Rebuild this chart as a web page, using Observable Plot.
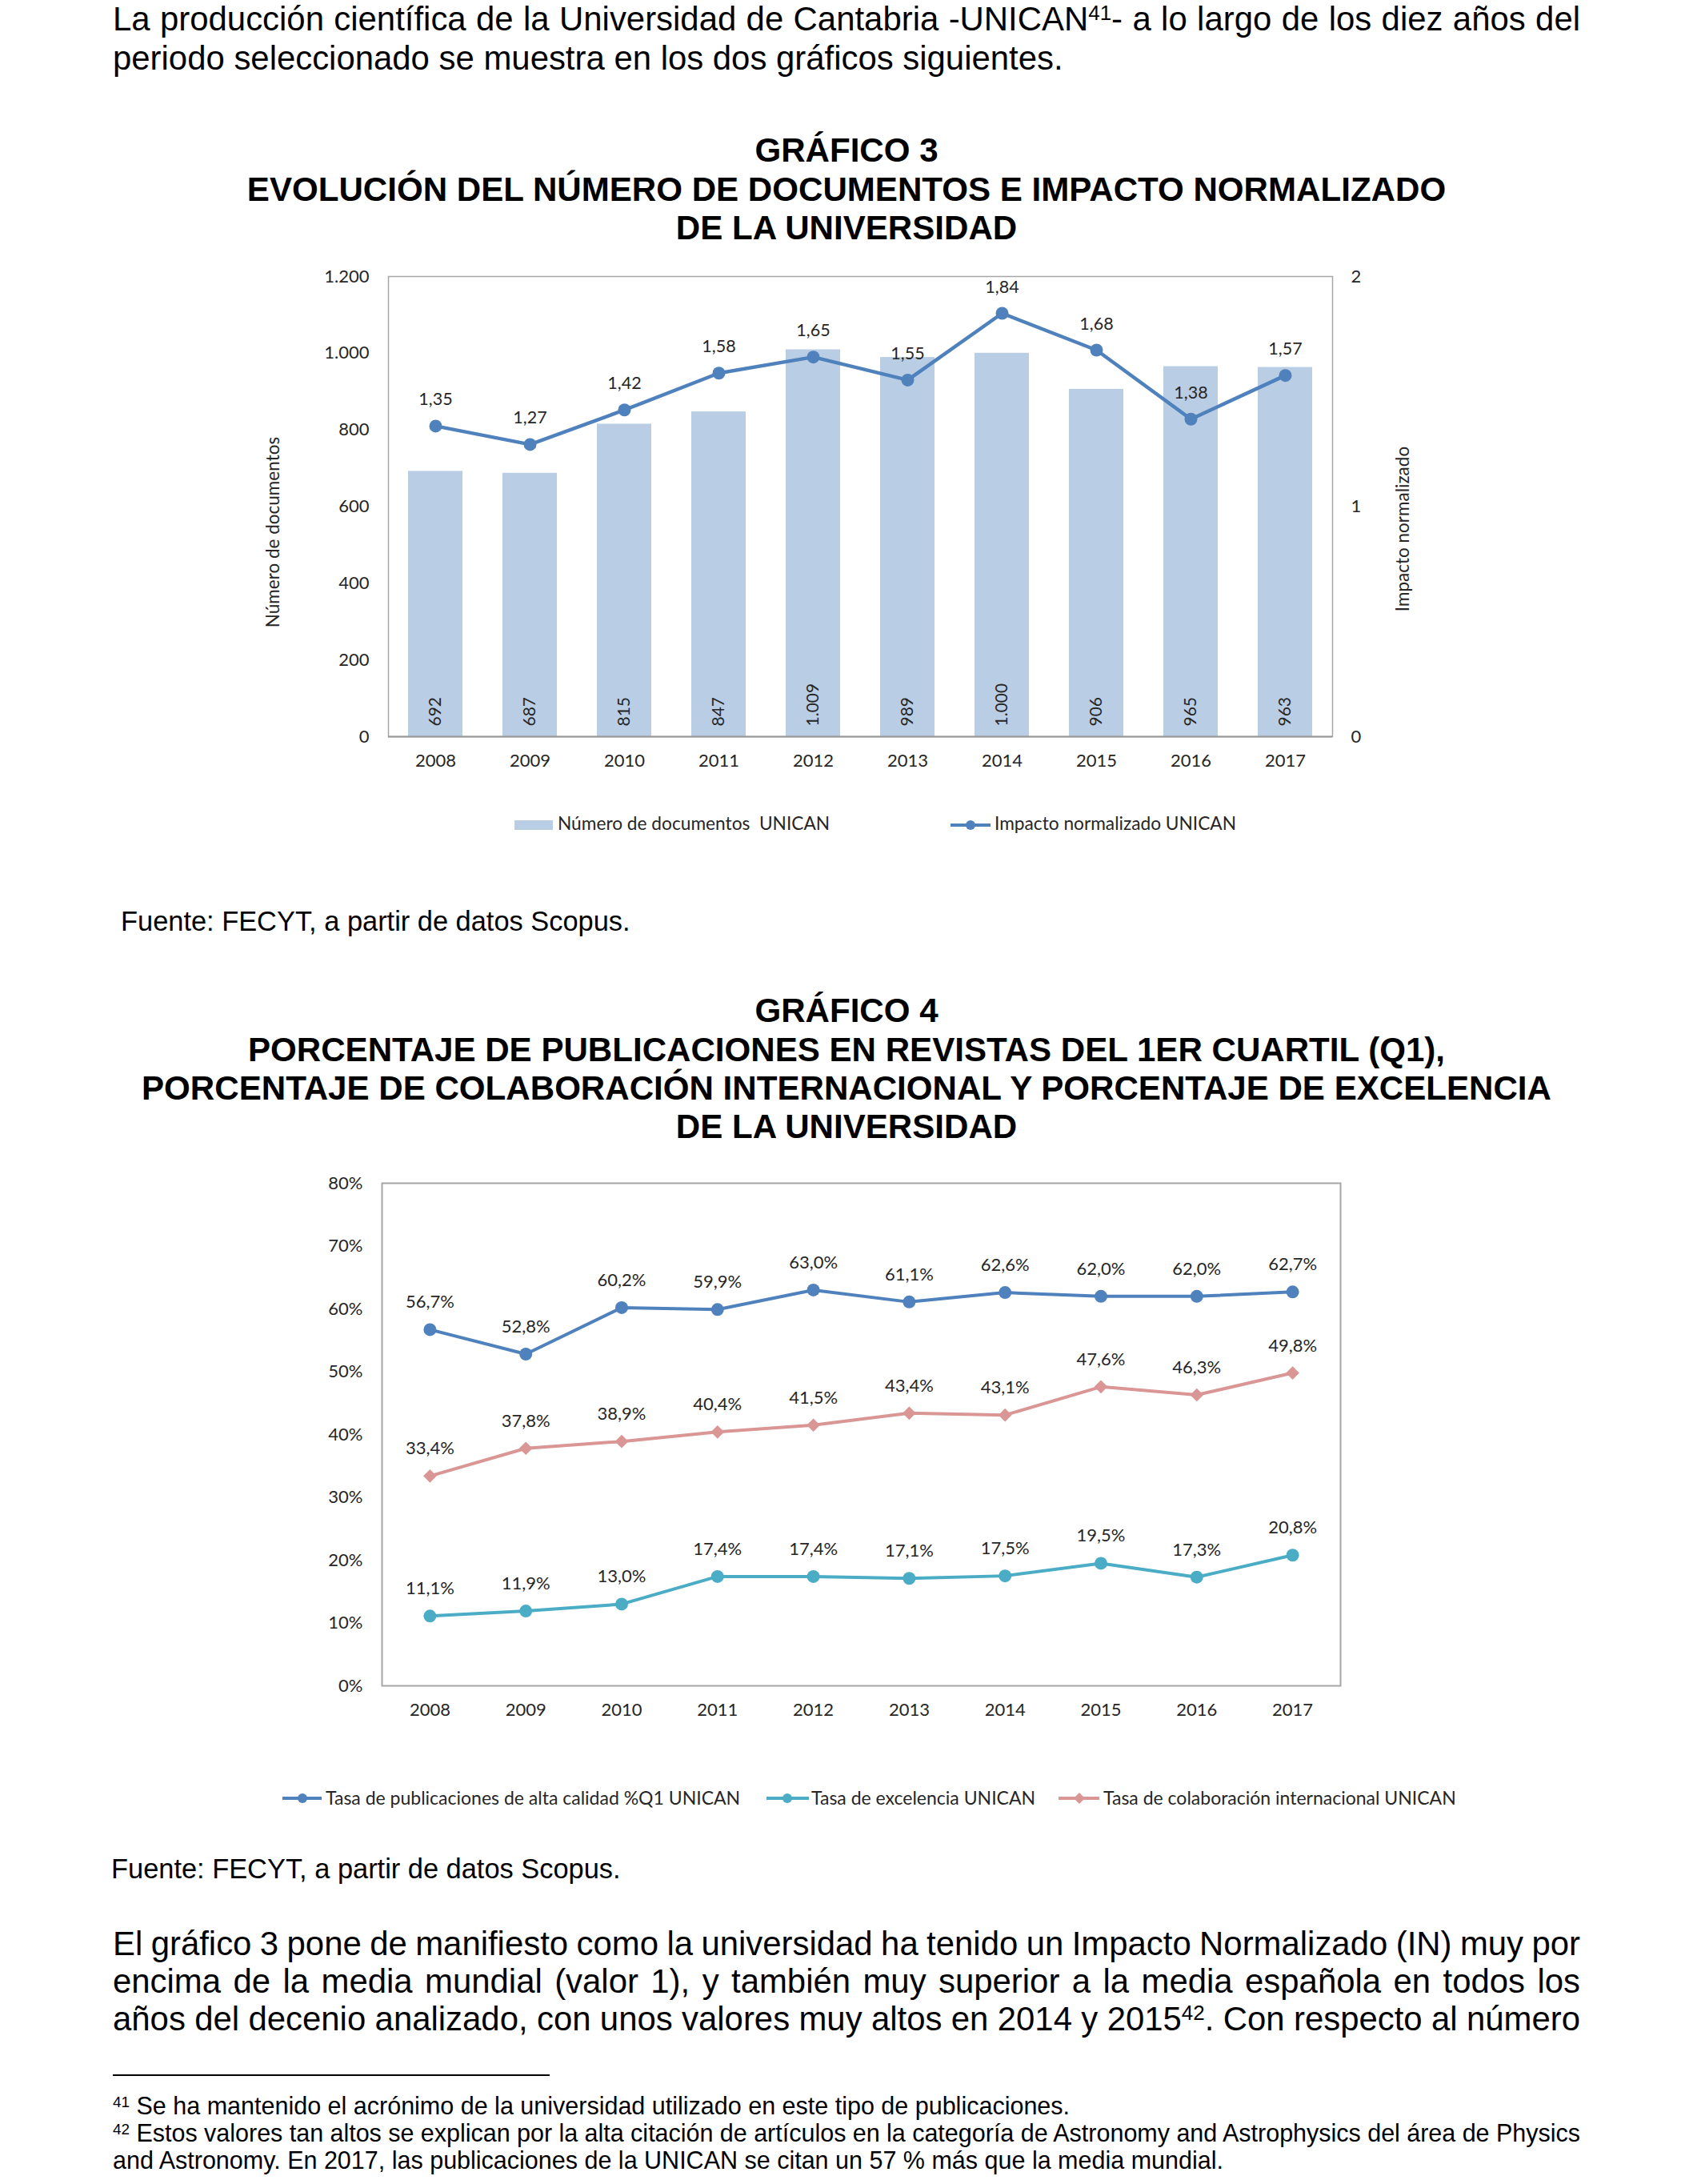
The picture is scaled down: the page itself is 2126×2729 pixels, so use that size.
<!DOCTYPE html>
<html><head><meta charset="utf-8">
<script src="https://cdn.jsdelivr.net/npm/d3@7"></script>
<script src="https://cdn.jsdelivr.net/npm/@observablehq/plot@0.6"></script>
<style>
html,body{margin:0;padding:0;background:#fff;}
body{width:2126px;height:2729px;position:relative;overflow:hidden;color:#000;font-family:"Liberation Sans",Arial,sans-serif;}
.ln{position:absolute;white-space:nowrap;}
.ln span{white-space:nowrap;}
sup{font-size:0.62em;vertical-align:baseline;position:relative;top:-0.5em;line-height:0;}
.abs{position:absolute;}
svg{overflow:visible;}
</style></head><body>
<script>
// ---------- DATA ----------
const years = ["2008","2009","2010","2011","2012","2013","2014","2015","2016","2017"];
const documentos = [692, 687, 815, 847, 1009, 989, 1000, 906, 965, 963];
const impacto = [1.35, 1.27, 1.42, 1.58, 1.65, 1.55, 1.84, 1.68, 1.38, 1.57];
const q1 = [56.7, 52.8, 60.2, 59.9, 63.0, 61.1, 62.6, 62.0, 62.0, 62.7];
const excelencia = [11.1, 11.9, 13.0, 17.4, 17.4, 17.1, 17.5, 19.5, 17.3, 20.8];
const colaboracion = [33.4, 37.8, 38.9, 40.4, 41.5, 43.4, 43.1, 47.6, 46.3, 49.8];
const docTicks = [0, 200, 400, 600, 800, 1000, 1200];
const impTicks = [0, 1, 2];
const pctTicks = [0, 10, 20, 30, 40, 50, 60, 70, 80];
const seriesNames = ["Tasa de publicaciones de alta calidad %Q1 UNICAN", "Tasa de excelencia UNICAN", "Tasa de colaboración internacional UNICAN"];
const seriesColors = ["#4F81BD", "#4BACC6", "#D99694"];

// ---------- helpers ----------
const page = document.body;
const SANS = "'Liberation Sans', Arial, sans-serif";
const CHART_FONT = "Lato, 'Open Sans', sans-serif";
const justified = [];
function addLine(html, {x = 141, width = 1834, baseline, size = 41.9, weight = 400, align = "left"}) {
  const d = document.createElement("div");
  d.className = "ln";
  d.style.left = x + "px";
  d.style.width = width + "px";
  d.style.top = (baseline - 0.8465 * size) + "px";
  d.style.fontSize = size + "px";
  d.style.lineHeight = size + "px";
  d.style.fontWeight = weight;
  d.style.fontFamily = SANS;
  d.style.textAlign = align === "justify" ? "left" : align;
  d.innerHTML = "<span>" + html + "</span>";
  page.appendChild(d);
  if (align === "justify") justified.push([d, width]);
}
function doJustify() {
  for (const [d, w] of justified) {
    const s = d.firstChild;
    s.style.wordSpacing = "0px";
    const nat = s.getBoundingClientRect().width;
    const n = (s.textContent.match(/ /g) || []).length;
    if (n) s.style.wordSpacing = ((w - nat) / n) + "px";
  }
}
function place(el, left, top) {
  const w = document.createElement("div");
  w.className = "abs";
  w.style.left = left + "px";
  w.style.top = top + "px";
  w.appendChild(el);
  page.appendChild(w);
}

// ---------- texts ----------
const TITLE = 42.1;
addLine("La producción científica de la Universidad de Cantabria -UNICAN<sup>41</sup>- a lo largo de los diez años del", {baseline: 38.5, align: "justify"});
addLine("periodo seleccionado se muestra en los dos gráficos siguientes.", {baseline: 87});

addLine("GRÁFICO 3", {baseline: 203, weight: 700, align: "center", size: TITLE});
addLine("EVOLUCIÓN DEL NÚMERO DE DOCUMENTOS E IMPACTO NORMALIZADO", {baseline: 251.5, weight: 700, align: "center", size: TITLE});
addLine("DE LA UNIVERSIDAD", {baseline: 299.5, weight: 700, align: "center", size: TITLE});

addLine("Fuente: FECYT, a partir de datos Scopus.", {x: 151, baseline: 1163, size: 34.4});

addLine("GRÁFICO 4", {baseline: 1278, weight: 700, align: "center", size: TITLE});
addLine("PORCENTAJE DE PUBLICACIONES EN REVISTAS DEL 1ER CUARTIL (Q1),", {baseline: 1327, weight: 700, align: "center", size: TITLE});
addLine("PORCENTAJE DE COLABORACIÓN INTERNACIONAL Y PORCENTAJE DE EXCELENCIA", {baseline: 1375, weight: 700, align: "center", size: TITLE});
addLine("DE LA UNIVERSIDAD", {baseline: 1423, weight: 700, align: "center", size: TITLE});

addLine("Fuente: FECYT, a partir de datos Scopus.", {x: 139, baseline: 2347, size: 34.4});

addLine("El gráfico 3 pone de manifiesto como la universidad ha tenido un Impacto Normalizado (IN) muy por", {baseline: 2443, align: "justify"});
addLine("encima de la media mundial (valor 1), y también muy superior a la media española en todos los", {baseline: 2490, align: "justify"});
addLine("años del decenio analizado, con unos valores muy altos en 2014 y 2015<sup>42</sup>. Con respecto al número", {baseline: 2537, align: "justify"});

const rule = document.createElement("div");
rule.className = "abs";
Object.assign(rule.style, {left: "141px", top: "2592px", width: "546px", height: "2px", background: "#000"});
page.appendChild(rule);

addLine("<sup>41</sup> Se ha mantenido el acrónimo de la universidad utilizado en este tipo de publicaciones.", {baseline: 2642, size: 30.5});
addLine("<sup>42</sup> Estos valores tan altos se explican por la alta citación de artículos en la categoría de Astronomy and Astrophysics del área de Physics", {baseline: 2676, size: 30.5, align: "justify"});
addLine("and Astronomy. En 2017, las publicaciones de la UNICAN se citan un 57 % más que la media mundial.", {baseline: 2710, size: 30.5});

// ---------- number formats ----------
const loc = d3.formatLocale({decimal: ",", thousands: ".", grouping: [3], currency: ["", "€"]});
const fmtInt = loc.format(",d");
const fmt2 = loc.format(".2f");
const fmtPct = (v) => loc.format(".1f")(v) + "%";

// ---------- Chart 3 ----------
const IMP_K = 600; // secondary axis: impacto 0–2 mapped onto documentos 0–1200
const docsData = years.map((y, i) => ({year: y, docs: documentos[i], imp: impacto[i]}));
const LABEL = "#262626";

const chart3 = Plot.plot({
  width: 1500, height: 680,
  marginLeft: 185, marginRight: 135, marginTop: 15, marginBottom: 90,
  style: {fontFamily: CHART_FONT, fontSize: "22px", color: LABEL, background: "transparent", overflow: "visible"},
  x: {domain: years, paddingInner: 0.424, paddingOuter: 0.212, round: false, label: null},
  y: {domain: [0, 1200], label: null},
  marks: [
    Plot.barY(docsData, {x: "year", y: "docs", fill: "#B9CDE5"}),
    Plot.frame({stroke: "#A6A6A6", strokeWidth: 1.5}),
    Plot.ruleY([0], {stroke: "#969696", strokeWidth: 2}),
    Plot.axisY(docTicks, {tickSize: 0, tickPadding: 24, tickFormat: fmtInt, label: null, fontSize: 22, fill: LABEL}),
    Plot.axisY(impTicks.map((v) => v * IMP_K), {anchor: "right", tickSize: 0, tickPadding: 23, tickFormat: (v) => String(v / IMP_K), label: null, fontSize: 22, fill: LABEL}),
    Plot.axisX({tickSize: 0, tickPadding: 22, label: null, fontSize: 22, fill: LABEL}),
    Plot.text(docsData, {x: "year", y: 0, text: (d) => fmtInt(d.docs), rotate: -90, textAnchor: "start", dy: -13, fontSize: 21, fill: LABEL}),
    Plot.line(docsData, {x: "year", y: (d) => d.imp * IMP_K, stroke: "#4F81BD", strokeWidth: 4.5}),
    Plot.dot(docsData, {x: "year", y: (d) => d.imp * IMP_K, r: 8, fill: "#4F81BD"}),
    Plot.text(docsData, {x: "year", y: (d) => d.imp * IMP_K, text: (d) => fmt2(d.imp), lineAnchor: "bottom", dy: -26, fontSize: 21.5, fill: LABEL}),
    Plot.text(["Número de documentos"], {frameAnchor: "left", textAnchor: "middle", rotate: -90, dx: -152, dy: 32, lineAnchor: "top", fontSize: 22.5, fill: LABEL}),
    Plot.text(["Impacto normalizado"], {frameAnchor: "right", textAnchor: "middle", rotate: -90, dx: 95, dy: 28, lineAnchor: "bottom", fontSize: 22.5, fill: LABEL})
  ]
});
place(chart3, 300, 330);

// legend 3
const leg3 = `<svg width="1000" height="60" xmlns="http://www.w3.org/2000/svg" style="font-family:${CHART_FONT};font-size:22.7px;fill:${LABEL}">
  <rect x="43" y="25" width="48" height="12" fill="#B9CDE5"></rect>
  <text x="97" y="37" xml:space="preserve" style="white-space:pre">Número de documentos  UNICAN</text>
  <line x1="588" x2="638" y1="31" y2="31" stroke="#4F81BD" stroke-width="4"></line>
  <circle cx="613" cy="31" r="6" fill="#4F81BD"></circle>
  <text x="643" y="37">Impacto normalizado UNICAN</text>
</svg>`;
const l3 = document.createElement("div");
l3.className = "abs"; l3.style.left = "600px"; l3.style.top = "1000px"; l3.innerHTML = leg3;
page.appendChild(l3);

// ---------- Chart 4 ----------
const pctSeries = [q1, excelencia, colaboracion];
const pctData = years.flatMap((y, i) => pctSeries.map((s, k) => ({year: y, serie: seriesNames[k], k, v: s[i]})));
const color4 = {domain: seriesNames, range: seriesColors};

const chart4 = Plot.plot({
  width: 1500, height: 710,
  marginLeft: 177, marginRight: 125, marginTop: 18, marginBottom: 64,
  style: {fontFamily: CHART_FONT, fontSize: "22px", color: LABEL, background: "transparent", overflow: "visible"},
  x: {type: "point", domain: years, padding: 0.5, round: false, label: null},
  y: {domain: [0, 80], label: null},
  color: color4,
  marks: [
    Plot.frame({stroke: "#A6A6A6", strokeWidth: 2}),
    Plot.axisY(pctTicks, {tickSize: 0, tickPadding: 24, tickFormat: (d) => d + "%", label: null, fontSize: 22, fill: LABEL}),
    Plot.axisX({tickSize: 0, tickPadding: 22, label: null, fontSize: 22, fill: LABEL}),
    Plot.line(pctData, {x: "year", y: "v", z: "serie", stroke: "serie", strokeWidth: 4}),
    Plot.dot(pctData.filter((d) => d.k !== 2), {x: "year", y: "v", fill: "serie", r: 8}),
    Plot.dot(pctData.filter((d) => d.k === 2), {x: "year", y: "v", fill: "serie", symbol: "diamond2", r: 7.5}),
    Plot.text(pctData, {x: "year", y: "v", text: (d) => fmtPct(d.v), lineAnchor: "bottom", dy: -27, fontSize: 22, fill: LABEL})
  ]
});
place(chart4, 300, 1460);

// legend 4
const leg4 = `<svg width="1600" height="60" xmlns="http://www.w3.org/2000/svg" style="font-family:${CHART_FONT};font-size:23px;fill:${LABEL}">
  <line x1="53" x2="102" y1="27" y2="27" stroke="${seriesColors[0]}" stroke-width="4"></line>
  <circle cx="78" cy="27" r="6" fill="${seriesColors[0]}"></circle>
  <text x="107" y="35">${seriesNames[0]}</text>
  <line x1="658" x2="711" y1="27" y2="27" stroke="${seriesColors[1]}" stroke-width="4"></line>
  <circle cx="684" cy="27" r="6" fill="${seriesColors[1]}"></circle>
  <text x="714" y="35">${seriesNames[1]}</text>
  <line x1="1023" x2="1074" y1="27" y2="27" stroke="${seriesColors[2]}" stroke-width="4"></line>
  <path d="M1049,20 L1056,27 L1049,34 L1042,27 Z" fill="${seriesColors[2]}"></path>
  <text x="1079" y="35">${seriesNames[2]}</text>
</svg>`;
const l4 = document.createElement("div");
l4.className = "abs"; l4.style.left = "300px"; l4.style.top = "2220px"; l4.innerHTML = leg4;
page.appendChild(l4);

doJustify();
if (document.fonts && document.fonts.ready) document.fonts.ready.then(doJustify);
</script>
</body></html>
